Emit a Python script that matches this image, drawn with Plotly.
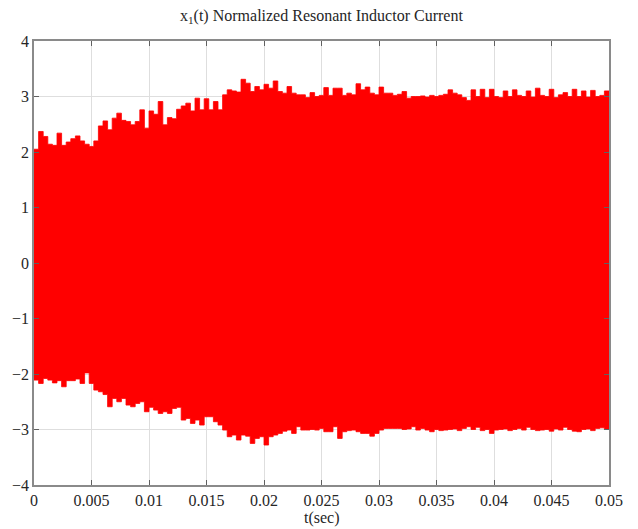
import numpy as np
import plotly.graph_objects as go

# Time axis: envelope sampled on 0.4 ms bins over 0..0.05 s
t_start = 0.0
t_step = 0.0004

# Upper envelope of the normalized resonant inductor current (per bin)
upper = [
    2.05, 2.37, 2.28, 2.14, 2.12, 2.34, 2.12, 2.18, 2.24, 2.29,
    2.20, 2.14, 2.10, 2.20, 2.47, 2.56, 2.40, 2.61, 2.70, 2.57,
    2.55, 2.49, 2.55, 2.76, 2.43, 2.74, 2.68, 2.91, 2.49, 2.62,
    2.60, 2.77, 2.83, 2.88, 2.74, 2.97, 2.76, 2.96, 2.76, 2.91,
    2.76, 3.03, 3.12, 3.10, 3.08, 3.31, 3.24, 3.09, 3.18, 3.12,
    3.22, 3.15, 3.28, 3.09, 3.06, 3.18, 3.06, 3.03, 3.03, 2.98,
    3.07, 3.00, 3.02, 3.16, 3.02, 3.15, 3.15, 3.02, 3.06, 3.03,
    3.23, 3.12, 3.17, 3.06, 3.03, 3.17, 3.06, 3.06, 3.02, 3.04,
    3.09, 2.97, 3.00, 3.00, 3.01, 2.99, 3.02, 3.00, 3.02, 3.04,
    3.12, 3.06, 3.03, 2.98, 2.93, 3.12, 3.00, 3.13, 2.98, 3.13,
    3.00, 2.98, 3.10, 3.00, 3.12, 3.02, 3.00, 3.10, 2.99, 3.15,
    3.02, 3.00, 3.13, 2.98, 3.03, 3.07, 3.00, 3.13, 3.00, 3.10,
    2.99, 3.11, 3.00, 3.02, 3.10,
]

# Lower envelope (per bin)
lower = [
    -2.11, -2.17, -2.08, -2.11, -2.16, -2.12, -2.23, -2.12, -2.12, -2.09,
    -2.17, -1.98, -2.17, -2.29, -2.32, -2.37, -2.59, -2.44, -2.50, -2.44,
    -2.56, -2.59, -2.53, -2.50, -2.68, -2.60, -2.65, -2.71, -2.68, -2.71,
    -2.62, -2.60, -2.83, -2.80, -2.89, -2.83, -2.92, -2.77, -2.77, -2.86,
    -2.92, -3.01, -3.13, -3.10, -3.19, -3.10, -3.12, -3.25, -3.16, -3.13,
    -3.28, -3.13, -3.10, -3.07, -3.03, -3.01, -3.07, -2.95, -3.01, -3.01,
    -3.00, -3.01, -2.98, -3.04, -3.04, -2.95, -3.16, -3.04, -3.02, -3.01,
    -3.04, -3.07, -3.07, -3.12, -3.07, -3.01, -2.98, -2.98, -2.98, -2.98,
    -3.00, -2.99, -2.95, -3.01, -2.98, -3.01, -3.04, -3.00, -3.02, -3.01,
    -3.00, -2.99, -3.02, -2.98, -2.95, -3.00, -2.96, -3.02, -3.00, -3.07,
    -3.01, -3.00, -2.99, -3.02, -3.00, -2.98, -3.01, -2.96, -3.00, -3.02,
    -3.01, -3.00, -3.03, -2.99, -3.01, -2.96, -3.00, -3.03, -3.04, -3.00,
    -2.99, -3.02, -2.98, -2.97, -3.00,
]

x_ticks = [0, 0.005, 0.01, 0.015, 0.02, 0.025, 0.03, 0.035, 0.04, 0.045, 0.05]
x_tick_text = ["0", "0.005", "0.01", "0.015", "0.02", "0.025", "0.03",
               "0.035", "0.04", "0.045", "0.05"]
y_ticks = [-4, -3, -2, -1, 0, 1, 2, 3, 4]

# Step edges: append the last value so the final bin closes at t = 0.05
t = t_start + t_step * np.arange(len(upper) + 1)
up = upper + [upper[-1]]
lo = lower + [lower[-1]]

RED = "#ff0000"
FONT = "Liberation Serif, Times New Roman, serif"
TEXT = "#262626"

fig = go.Figure()
fig.add_trace(go.Scatter(x=t, y=lo, mode="lines", line=dict(color=RED, width=0.8, shape="hv"),
                         hoverinfo="skip", showlegend=False))
fig.add_trace(go.Scatter(x=t, y=up, mode="lines", line=dict(color=RED, width=0.8, shape="hv"),
                         fill="tonexty", fillcolor=RED, hoverinfo="skip", showlegend=False))

axis_common = dict(
    showline=True, linecolor="#8a8a8a", linewidth=1.5, mirror="allticks",
    ticks="inside", ticklen=5, tickcolor="#606060", tickwidth=1.2,
    showgrid=True, gridcolor="#dedede", gridwidth=1,
    zeroline=False, tickfont=dict(family=FONT, size=16, color=TEXT),
)

fig.update_layout(
    width=638, height=529,
    margin=dict(l=34, r=29, t=41, b=44),
    paper_bgcolor="white", plot_bgcolor="white",
    font=dict(family=FONT, color=TEXT),
    xaxis=dict(range=[0, 0.05], tickvals=x_ticks, ticktext=x_tick_text, **axis_common),
    yaxis=dict(range=[-4, 4], tickvals=y_ticks, **axis_common),
    annotations=[
        dict(text="x<sub>1</sub>(t) Normalized Resonant Inductor Current",
             xref="paper", yref="paper", x=0.5, y=(485 - 16) / 444,
             xanchor="center", yanchor="middle", showarrow=False,
             font=dict(family=FONT, size=16, color=TEXT)),
        dict(text="t(sec)", xref="paper", yref="paper", x=0.5, y=(485 - 518) / 444,
             xanchor="center", yanchor="middle", showarrow=False,
             font=dict(family=FONT, size=16, color=TEXT)),
    ],
)

fig.write_html("out.html")
